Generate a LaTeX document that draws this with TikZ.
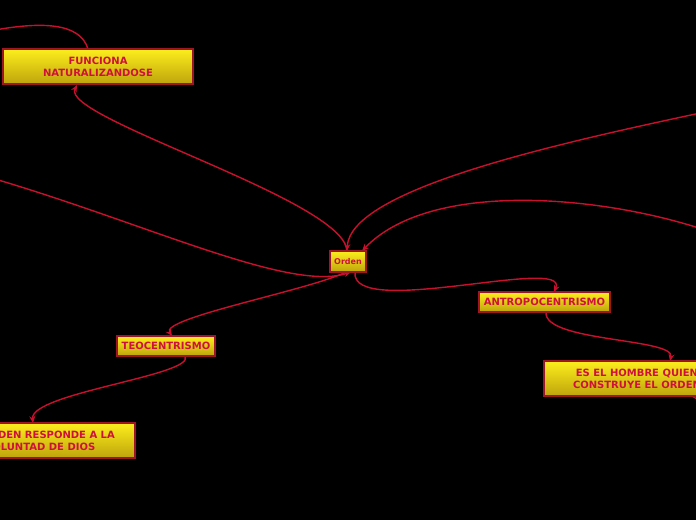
\documentclass[tikz,border=0pt]{standalone}
\usepackage{fontspec}
\setmainfont{DejaVu Sans}
\usetikzlibrary{arrows.meta}
\definecolor{linkred}{HTML}{C8102E}
\definecolor{boxborder}{HTML}{9E1428}
\definecolor{boxtext}{HTML}{D0103C}
\definecolor{ytop}{HTML}{FCEE1C}
\definecolor{ybot}{HTML}{BFA40C}
\tikzset{
  topic/.style={rectangle, draw=boxborder, line width=1.3pt, top color=ytop, bottom color=ybot,
    text=boxtext, font=\fontsize{10}{12}\selectfont\bfseries, align=center, inner sep=0pt},
  link/.style={draw=linkred, line width=1.4pt},
  arr/.style={-{Stealth[length=7pt,width=6pt]}}
}
\begin{document}
\begin{tikzpicture}[x=1pt,y=-1pt]
\fill[black] (0,0) rectangle (696,520);
\useasboundingbox (0,0) rectangle (696,520);
\clip (0,0) rectangle (696,520);

% off-screen ends
\coordinate (o1) at (-5,30);
\coordinate (o2) at (705,112);
\coordinate (o3) at (705,230);
\coordinate (o4) at (-5,179);
\coordinate (o5) at (712,408);

\coordinate (fnT) at (88,49);
\coordinate (fnB) at (77,85);
\coordinate (orT1) at (347,251);
\coordinate (orT2) at (362,251);
\coordinate (orB1) at (346,272);
\coordinate (orB2) at (351,272);
\coordinate (orB3) at (355,272);
\coordinate (anT) at (554,292);
\coordinate (anB) at (546,312);
\coordinate (hoT) at (670,361);
\coordinate (hoB) at (692,396);
\coordinate (teT) at (172,336);
\coordinate (teB) at (185,356);
\coordinate (voT) at (33,423);

\draw[link] (fnT) .. controls (80,22) and (40,22) .. (o1);
\draw[link,arr] (orT1) .. controls (345,200) and (60,118) .. (fnB);
\draw[link,arr] (o2) .. controls (550,145) and (350,190) .. (orT1);
\draw[link,arr] (o3) .. controls (600,195) and (430,180) .. (orT2);
\draw[link,arr] (o4) .. controls (150,225) and (290,292) .. (orB2);
\draw[link,arr] (orB3) .. controls (350,320) and (570,255) .. (anT);
\draw[link,arr] (orB1) .. controls (310,290) and (160,318) .. (teT);
\draw[link,arr] (anB) .. controls (543,342) and (675,338) .. (hoT);
\draw[link,arr] (teB) .. controls (197,375) and (30,393) .. (voT);
\draw[link] (hoB) -- (o5);

% boxes
\node[topic, minimum width=190pt, minimum height=35pt] (fn) at (98,66.5) {FUNCIONA\\NATURALIZANDOSE};
\node[topic, minimum width=36pt, minimum height=21pt, font=\fontsize{8}{9}\selectfont\bfseries] (orden) at (348,261.5) {Orden};
\node[topic, minimum width=131pt, minimum height=20pt] (antro) at (544.5,302) {ANTROPOCENTRISMO};
\node[topic, minimum width=186pt, minimum height=35pt] (hombre) at (637,378.5) {ES EL HOMBRE QUIEN\\CONSTRUYE EL ORDEN};
\node[topic, minimum width=98pt, minimum height=20pt] (teo) at (166,346) {TEOCENTRISMO};
\node[topic, minimum width=190pt, minimum height=35pt] (vol) at (40,440.5) {EL ORDEN RESPONDE A LA\\VOLUNTAD DE DIOS};
\end{tikzpicture}
\end{document}
